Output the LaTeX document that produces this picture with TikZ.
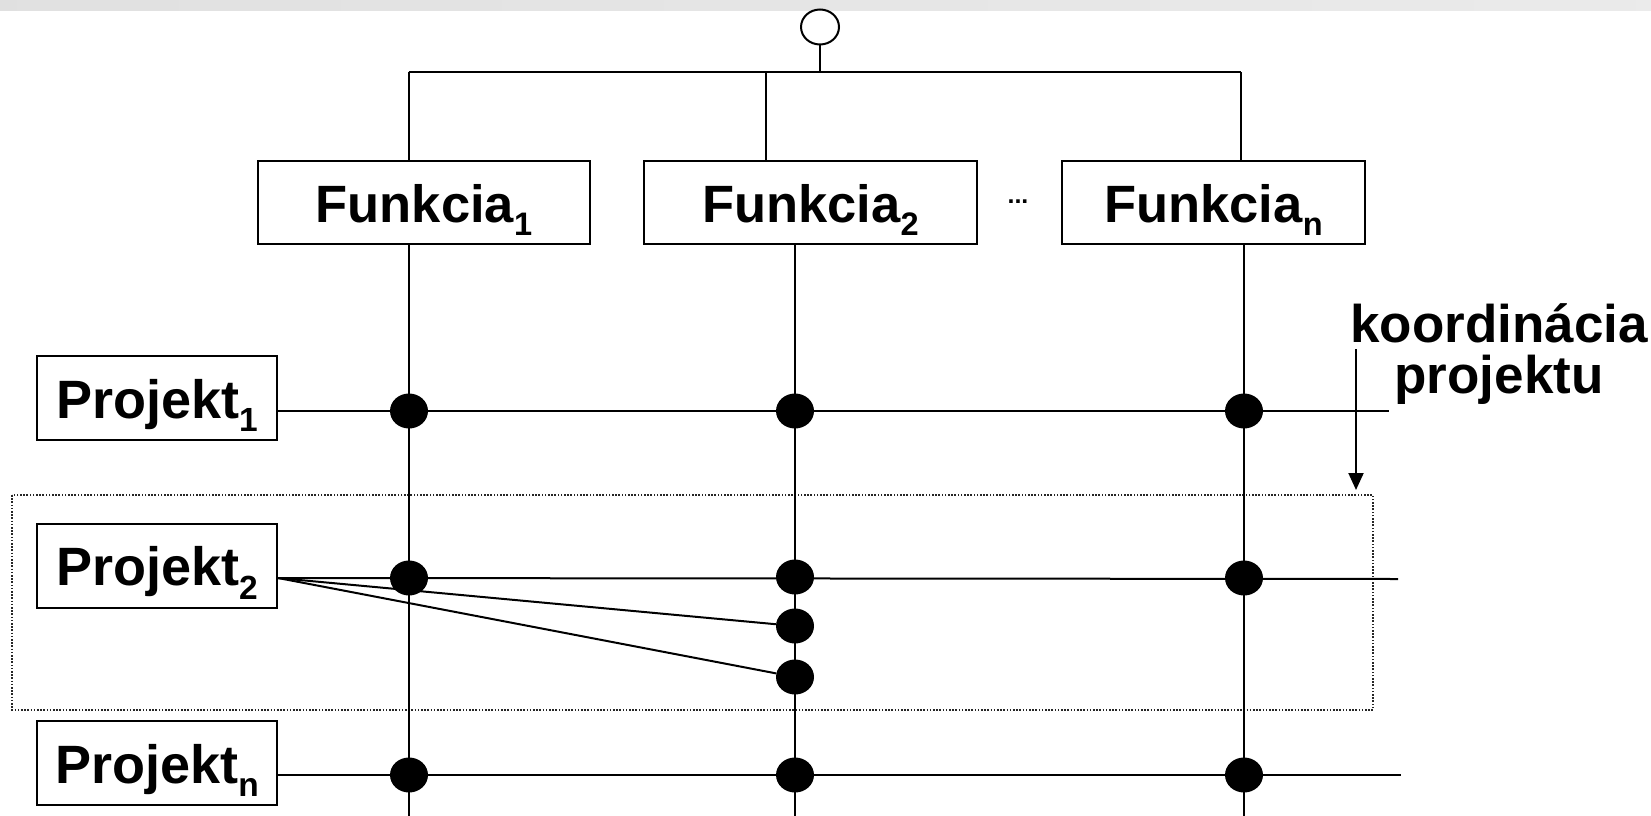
\documentclass[tikz,border=0pt]{standalone}
\usepackage{fontspec}
\usepackage{graphicx}
\usetikzlibrary{shapes.geometric,arrows.meta}
\newfontfamily\boxfont{Liberation Sans}
\newcommand\idx[1]{\raisebox{-0.25em}{\scalebox{0.62}{#1}}}

\begin{document}
\begin{tikzpicture}[x=1pt,y=-1pt,
  wire/.style={line width=2pt},
  unitbox/.style={draw,line width=2pt,inner sep=0pt,minimum height=83pt,
    text height=40pt,text depth=0pt,
    font=\boxfont\bfseries\fontsize{52.5}{52.5}\selectfont},
  projbox/.style={draw,line width=2pt,inner sep=0pt,minimum width=240pt,minimum height=84pt,
    text height=40pt,text depth=0pt,
    font=\boxfont\bfseries\fontsize{54}{54}\selectfont},
  joint/.style={ellipse,fill=black,inner sep=0pt,minimum width=38pt,minimum height=35pt},
  group/.style={draw=black!85,line width=1.6pt,dash pattern=on 1.6pt off 1.6pt}
]
\useasboundingbox (0,0) rectangle (1651,816);

% light strip along the top edge
\fill[left color=black!12,right color=black!8,draw=none] (0,0) rectangle (1651,11);

% root and bus
\node[ellipse,draw,line width=2pt,fill=white,inner sep=0pt,minimum width=38pt,minimum height=35pt] (root) at (820,27) {};
\coordinate (busL) at (408.5,72);
\coordinate (busM) at (765.5,72);
\coordinate (busR) at (1241,72);
\coordinate (bot) at (0,816);

% functional units
\node[unitbox,minimum width=332pt] (f1) at (424,202.5) {Funkcia\idx{1}};
\node[unitbox,minimum width=333pt] (f2) at (810.5,202.5) {Funkcia\idx{2}};
\node[unitbox,minimum width=303pt] (fn) at (1213.5,202.5) {Funkcia\idx{n}};
\node[anchor=base,inner sep=0pt,font=\boxfont\bfseries\fontsize{25}{25}\selectfont] (ell) at (1018,203) {...};

% projects
\node[projbox] (p1) at (157,398) {Projekt\idx{1}};
\node[projbox] (p2) at (157,565.5) {Projekt\idx{2}};
\node[projbox] (pn) at (157,763) {Projekt\idx{n}};

% project coordination group
\draw[group] (12,495) rectangle (1373,710);

% joints
\node[joint] (d11) at (409,411) {};
\node[joint] (d12) at (795,411) {};
\node[joint] (d13) at (1244,411) {};
\node[joint] (d21) at (409,578) {};
\node[joint] (d22) at (795,577) {};
\node[joint] (d23) at (1244,578) {};
\node[joint] (d2a) at (795,626) {};
\node[joint] (d2b) at (795,677) {};
\node[joint] (dn1) at (409,775) {};
\node[joint] (dn2) at (795,775) {};
\node[joint] (dn3) at (1244,775) {};

\coordinate (e1) at (1389,411);
\coordinate (e2) at (1398,579);
\coordinate (en) at (1401,775);

% tree on top
\draw[wire] (root) -- (root |- busL);
\draw[wire] (busL) -- (busR);
\draw[wire] (busL) -- (busL |- f1.north);
\draw[wire] (busM) -- (busM |- f2.north);
\draw[wire] (busR) -- (busR |- fn.north);

% function columns
\draw[wire] (f1.south -| d11) -- (d11 |- bot);
\draw[wire] (f2.south -| d12) -- (d12 |- bot);
\draw[wire] (fn.south -| d13) -- (d13 |- bot);

% project rows
\draw[wire] (p1.east |- d11) -- (e1);
\draw[wire] (p2.east |- d21) -- (e2);
\draw[wire] (p2.east |- d21) -- (d2a);
\draw[wire] (p2.east |- d21) -- (d2b);
\draw[wire] (pn.east |- dn1) -- (en);

% coordination label and arrow
\node[anchor=base,align=center,inner sep=0pt,
  font=\boxfont\bfseries\fontsize{53}{51}\selectfont] (note) at (1499,393) {koordinácia\\projektu};
\coordinate (ka) at (1356,349);
\coordinate (kb) at (1356,490);
\draw[wire,-{Triangle[width=15pt,length=17pt]}] (ka) -- (kb);
\end{tikzpicture}
\end{document}
